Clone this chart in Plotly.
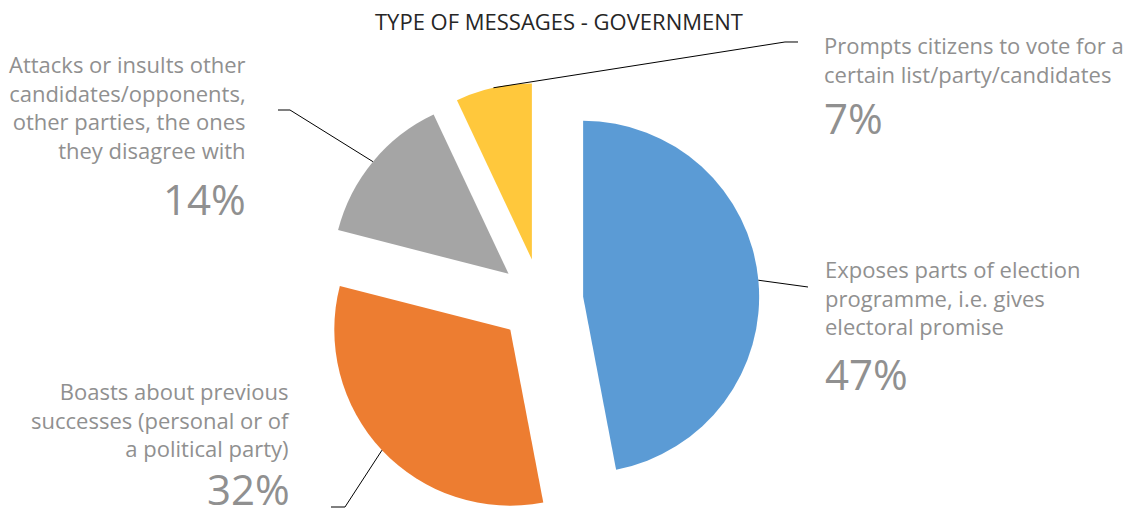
import math
import plotly.graph_objects as go

# Slice data (clockwise from 12 o'clock)
categories = [
    "Exposes parts of election<br>programme, i.e. gives<br>electoral promise",
    "Boasts about previous<br>successes (personal or of<br>a political party)",
    "Attacks or insults other<br>candidates/opponents,<br>other parties, the ones<br>they disagree with",
    "Prompts citizens to vote for a<br>certain list/party/candidates",
]
shares = [47, 32, 14, 7]
colors = ["#5B9BD5", "#ED7D31", "#A5A5A5", "#FFC83C"]
title_text = "TYPE OF MESSAGES - GOVERNMENT"

# Canvas and pie layout
W, H = 1132, 519
PULL = 0.24
DOM_X = [0.278, 0.678]
DOM_Y = [0.0, 0.841]

FONT = "Open Sans"
LABEL_GREY = "#909090"

# Label placement per slice (pixels): side, leader elbow/end, text block centres
label_layout = [
    dict(side="left", elbow=None, end=(808, 287), x=823, y_text=297, y_pct=373),
    dict(side="right", elbow=(345, 507), end=(331, 507), x=292, y_text=419, y_pct=488),
    dict(side="right", elbow=(290, 110), end=(278, 110), x=248, y_text=107, y_pct=199),
    dict(side="left", elbow=(785, 42), end=(798, 42), x=822, y_text=59, y_pct=117),
]


def to_paper(px, py):
    return px / W, 1 - py / H


# Pie geometry as Plotly computes it (margins are zero)
box_w = W * (DOM_X[1] - DOM_X[0])
box_h = H * (DOM_Y[1] - DOM_Y[0])
radius = min(box_w, box_h) / 2 / (1 + PULL)
cx = W * (DOM_X[0] + DOM_X[1]) / 2
cy = H * (1 - DOM_Y[0]) - box_h / 2

total = sum(shares)
fig = go.Figure(
    go.Pie(
        values=shares,
        labels=[c.replace("<br>", " ") for c in categories],
        marker=dict(colors=colors, line=dict(width=0)),
        sort=False,
        direction="clockwise",
        rotation=0,
        pull=[PULL] * len(shares),
        textinfo="none",
        hovertemplate="%{label}: %{value}%<extra></extra>",
        domain=dict(x=DOM_X, y=DOM_Y),
        showlegend=False,
    )
)

shapes = []
annotations = []
cum = 0
for cat, val, spec in zip(categories, shares, label_layout):
    mid = (cum + val / 2) / total * 2 * math.pi
    cum += val
    dx, dy = math.sin(mid), -math.cos(mid)
    ax = cx + radius * (1 + PULL) * dx
    ay = cy + radius * (1 + PULL) * dy
    pts = [(ax, ay)]
    if spec["elbow"]:
        pts.append(spec["elbow"])
    pts.append(spec["end"])
    path = "M " + " L ".join(
        "{:.5f},{:.5f}".format(*to_paper(px, py)) for px, py in pts
    )
    shapes.append(
        dict(type="path", xref="paper", yref="paper", path=path,
             line=dict(color="#000000", width=1))
    )

    xanchor = "left" if spec["side"] == "left" else "right"
    xp, yp = to_paper(spec["x"], spec["y_text"])
    annotations.append(
        dict(text=cat, x=xp, y=yp, xref="paper", yref="paper",
             xanchor=xanchor, yanchor="middle", align=xanchor,
             showarrow=False, font=dict(family=FONT, size=22, color=LABEL_GREY))
    )
    xp, yp = to_paper(spec["x"], spec["y_pct"])
    annotations.append(
        dict(text=f"{val}%", x=xp, y=yp, xref="paper", yref="paper",
             xanchor=xanchor, yanchor="middle", align=xanchor,
             showarrow=False, font=dict(family=FONT, size=42, color=LABEL_GREY))
    )

tx, ty = to_paper(559, 21)
annotations.append(
    dict(text=title_text, x=tx, y=ty, xref="paper", yref="paper",
         xanchor="center", yanchor="middle", showarrow=False,
         font=dict(family=FONT, size=22, color="#262626"))
)

fig.update_layout(
    width=W,
    height=H,
    margin=dict(l=0, r=0, t=0, b=0),
    paper_bgcolor="white",
    plot_bgcolor="white",
    shapes=shapes,
    annotations=annotations,
)

fig.write_html("out.html")
